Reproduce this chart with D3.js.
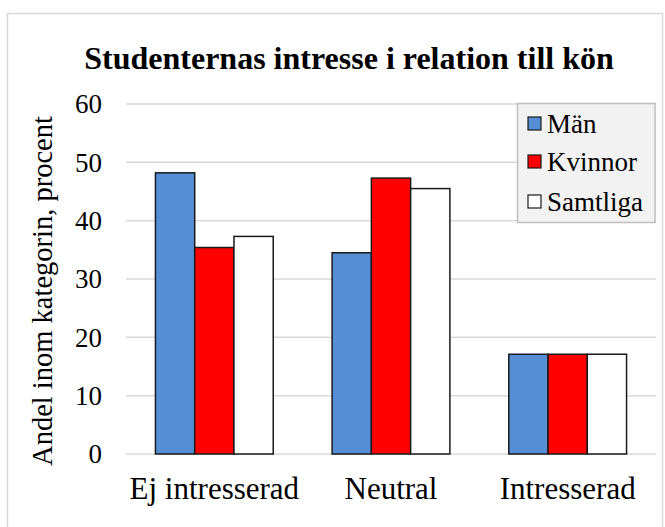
<!DOCTYPE html>
<html><head><meta charset="utf-8">
<script src="https://cdn.jsdelivr.net/npm/d3@7"></script>
<style>body{margin:0;background:#fff}svg{display:block}</style>
</head><body>
<script>
const categories = ["Ej intresserad", "Neutral", "Intresserad"];
const seriesNames = ["Män", "Kvinnor", "Samtliga"];
const manValues = [48.2, 34.5, 17.1];
const kvinnorValues = [35.4, 47.3, 17.1];
const samtligaValues = [37.3, 45.5, 17.1];
const yTicks = [0, 10, 20, 30, 40, 50, 60];
const colors = ["#558ED5", "#FF0000", "#FFFFFF"];

(function () {
const series = [manValues, kvinnorValues, samtligaValues];
const W = 665, H = 527;
const svg = d3.select("body").append("svg").attr("width", W).attr("height", H);
const font = "Liberation Serif, Times New Roman, serif";

svg.append("rect").attr("x", 7.5).attr("y", 13.5).attr("width", 655).attr("height", 520)
  .attr("fill", "#fff").attr("stroke", "#d9d9d9").attr("stroke-width", 1.5);

const pLeft = 126, pRight = 656, pTop = 104, pBottom = 454;
const x0 = d3.scaleBand().domain(categories).range([pLeft, pRight]).paddingInner(1/3).paddingOuter(1/6);
const x1 = d3.scaleBand().domain(seriesNames).range([0, x0.bandwidth()]);
const y = d3.scaleLinear().domain([0, 60]).range([pBottom, pTop]);

svg.append("g").selectAll("line").data(yTicks).join("line")
  .attr("x1", pLeft).attr("x2", pRight).attr("y1", d => y(d)).attr("y2", d => y(d))
  .attr("stroke", "#d9d9d9").attr("stroke-width", 1.5);

svg.append("g").selectAll("text").data(yTicks).join("text")
  .attr("x", 102).attr("y", d => y(d)).attr("dy", "0.35em").attr("text-anchor", "end")
  .attr("font-family", font).attr("font-size", 27).attr("fill", "#000").text(d => d);

const g = svg.append("g");
series.forEach((vals, si) => {
  g.selectAll(null).data(vals).join("rect")
    .attr("x", (d, i) => x0(categories[i]) + x1(seriesNames[si]))
    .attr("y", d => y(d))
    .attr("width", x1.bandwidth())
    .attr("height", d => y(0) - y(d))
    .attr("fill", colors[si]).attr("stroke", "#1a1a1a").attr("stroke-width", 1.5);
});

svg.append("g").selectAll("text").data(categories).join("text")
  .attr("x", d => x0(d) + x0.bandwidth() / 2).attr("y", 499).attr("text-anchor", "middle")
  .attr("font-family", font).attr("font-size", 31).attr("fill", "#000").text(d => d);

svg.append("text").attr("transform", "translate(52,291) rotate(-90)").attr("text-anchor", "middle")
  .attr("font-family", font).attr("font-size", 28.5).attr("fill", "#000").text("Andel inom kategorin, procent");

svg.append("text").attr("x", 349).attr("y", 69).attr("text-anchor", "middle")
  .attr("font-family", font).attr("font-size", 32).attr("font-weight", "bold").attr("fill", "#000")
  .text("Studenternas intresse i relation till kön");

const lg = svg.append("g");
lg.append("rect").attr("x", 517.5).attr("y", 103.5).attr("width", 137.5).attr("height", 119)
  .attr("fill", "#f2f2f2").attr("stroke", "#bfbfbf").attr("stroke-width", 1.5);
const rowsY = [124, 162, 202];
seriesNames.forEach((n, i) => {
  lg.append("rect").attr("x", 528).attr("y", rowsY[i] - 7).attr("width", 13).attr("height", 13)
    .attr("fill", colors[i]).attr("stroke", "#1a1a1a").attr("stroke-width", 1.2);
  lg.append("text").attr("x", 547).attr("y", rowsY[i]).attr("dy", "0.35em")
    .attr("font-family", font).attr("font-size", 27).attr("fill", "#000").text(n);
});
})();
</script>
</body></html>
